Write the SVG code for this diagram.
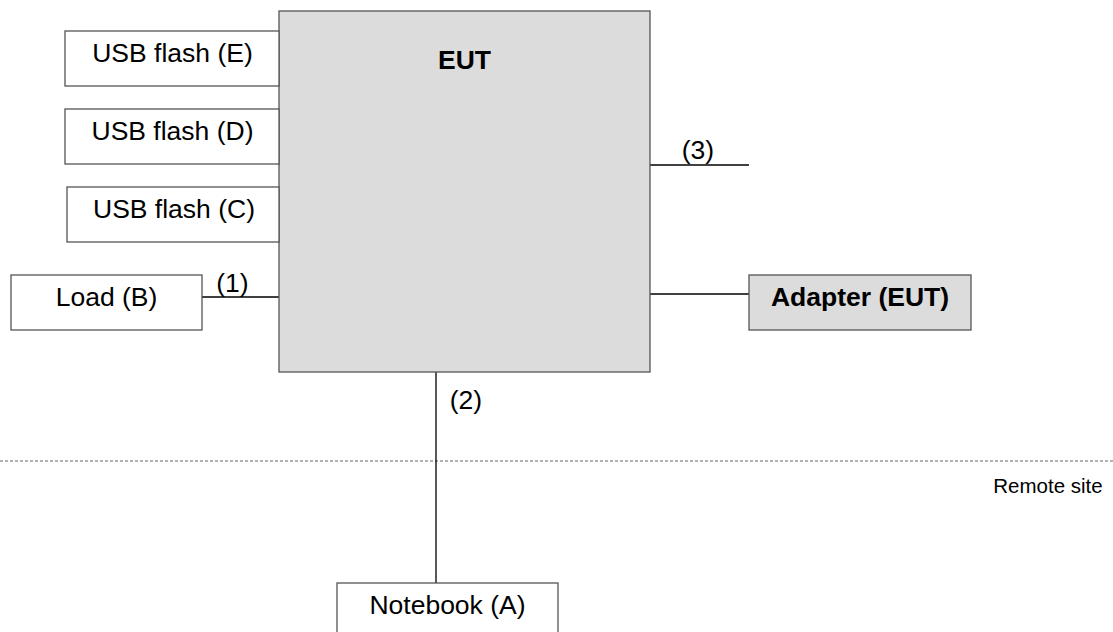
<svg xmlns="http://www.w3.org/2000/svg" width="1113" height="632" viewBox="0 0 1113 632">
<style>
.box{fill:#ffffff;stroke:#555555;stroke-width:1.3}
.gbox{fill:#dcdcdc;stroke:#555555;stroke-width:1.3}
.t{font-family:"Liberation Sans",Arial,sans-serif;font-size:26.5px;fill:#000;text-anchor:middle}
.b{font-weight:bold}
.c{stroke:#000;stroke-width:1.3;fill:none}
</style>
<rect width="1113" height="632" fill="#ffffff"/>
<line x1="0" y1="461" x2="1113" y2="461" stroke="#666" stroke-width="1" stroke-dasharray="3,2"/>
<text x="1048" y="492.5" font-family="Liberation Sans,Arial,sans-serif" font-size="20.5" text-anchor="middle">Remote site</text>
<g id="connectors">
<line class="c" x1="202" y1="297" x2="279" y2="297"/>
<line class="c" x1="650" y1="165" x2="749" y2="165"/>
<line class="c" x1="650" y1="294" x2="749" y2="294"/>
<line class="c" x1="436" y1="372" x2="436" y2="583"/>
<text class="t" x="232.5" y="292">(1)</text>
<text class="t" x="698" y="159">(3)</text>
<text class="t" x="466" y="409">(2)</text>
</g>
<g id="eut">
<rect class="gbox" x="279" y="11" width="371" height="361"/>
<text class="t b" x="464.5" y="69">EUT</text>
</g>
<g id="usb-e">
<rect class="box" x="65" y="31" width="214" height="55"/>
<text class="t" x="172.5" y="62">USB flash (E)</text>
</g>
<g id="usb-d">
<rect class="box" x="65" y="109" width="214" height="55"/>
<text class="t" x="172.5" y="140">USB flash (D)</text>
</g>
<g id="usb-c">
<rect class="box" x="67" y="187" width="212" height="55"/>
<text class="t" x="174" y="218">USB flash (C)</text>
</g>
<g id="load-b">
<rect class="box" x="11" y="275" width="191" height="55"/>
<text class="t" x="106.5" y="306">Load (B)</text>
</g>
<g id="adapter">
<rect class="gbox" x="749" y="275" width="222" height="55"/>
<text class="t b" x="860" y="306">Adapter (EUT)</text>
</g>
<g id="notebook">
<rect class="box" x="337" y="583" width="221" height="60"/>
<text class="t" x="447.5" y="614">Notebook (A)</text>
</g>
</svg>
